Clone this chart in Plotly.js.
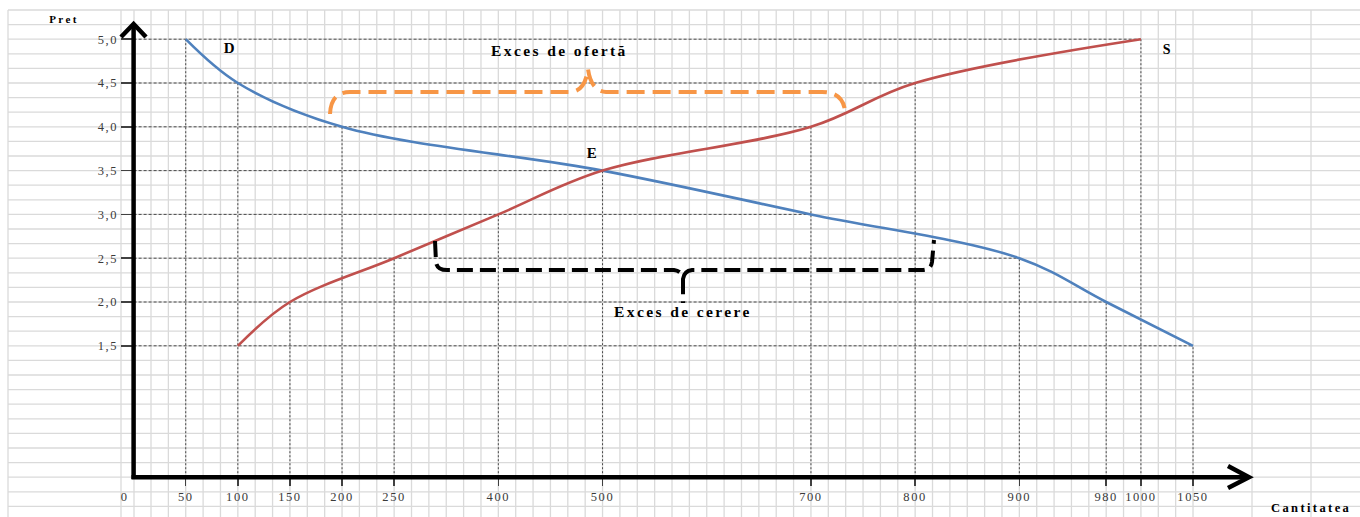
<!DOCTYPE html>
<html><head><meta charset="utf-8">
<script src="https://cdn.plot.ly/plotly-3.0.1.min.js"></script>
<style>
html,body{margin:0;padding:0;background:#fff}
#chart{width:1360px;height:517px}
#chart .xtick text, #chart .ytick text{letter-spacing:1.6px}
#chart .annotation-text{letter-spacing:2.4px}
</style>
</head><body><div id="chart"></div>
<script>
// ---------------- data ----------------
const qtyTicks = [0, 50, 100, 150, 200, 250, 400, 500, 700, 800, 900, 980, 1000, 1050];
const qtyTickLabels = ['0','50','100','150','200','250','400','500','700','800','900','980','1000','1050'];
const prices = [1.5, 2.0, 2.5, 3.0, 3.5, 4.0, 4.5, 5.0];
const priceTickLabels = ['1,5','2,0','2,5','3,0','3,5','4,0','4,5','5,0'];
const qtyDemanded = [1050, 980, 900, 700, 500, 200, 100, 50];   // D
const qtySupplied = [100, 150, 250, 400, 500, 700, 800, 1000];  // S

// ---------------- layout geometry ----------------
// The drawing's quantity axis is hand-made and uneven: each tick sits on a sheet column.
const tickSlots = [-1.5, 2, 5, 8, 11, 14, 20, 26, 38, 44, 50, 55, 57, 60];
function warp(q) {
  for (let i = 0; i < qtyTicks.length - 1; i++) {
    if (q <= qtyTicks[i + 1]) {
      const t = (q - qtyTicks[i]) / (qtyTicks[i + 1] - qtyTicks[i]);
      return tickSlots[i] + t * (tickSlots[i + 1] - tickSlots[i]);
    }
  }
  return tickSlots[tickSlots.length - 1];
}
const W = 1360, H = 517;
const colPx = 17.367, col0Px = 151;     // sheet column width, first column
const unitPx = 87.6, zeroPx = 477.2;    // px per price unit, price-0 baseline
const px2x = px => (px - col0Px) / colPx;
const py2y = py => (zeroPx - py) / unitPx;
const P = (a, b) => px2x(a) + ',' + py2y(b);
const xRange = [px2x(0), px2x(W)];
const yRange = [py2y(H), py2y(0)];

const FONT = 'Liberation Serif, Times New Roman, serif';
const shapes = [];

// spreadsheet cell grid
const gridColor = '#dadada';
const colLines = [px2x(8), px2x(121), px2x(134)];
for (let c = 0; c <= 60; c++) colLines.push(c);
colLines.push(px2x(1252), px2x(1311));
colLines.forEach(x => shapes.push({type:'line', layer:'below', xref:'x', yref:'y',
  x0:x, x1:x, y0:py2y(10), y1:yRange[0], line:{color:gridColor, width:1.3}}));
for (let k = -2; k <= 32; k++) {
  shapes.push({type:'line', layer:'below', xref:'x', yref:'y',
    x0:px2x(8), x1:xRange[1], y0:k/6, y1:k/6, line:{color:gridColor, width:1.3}});
}

// dashed guide lines from the axes to the schedule points
const axisX = px2x(133.6);
const guideColor = '#4a4a4a';
const qAll = Array.from(new Set(qtyDemanded.concat(qtySupplied)));
qAll.forEach(q => {
  let top = 0;
  prices.forEach((p, i) => { if (qtyDemanded[i] === q || qtySupplied[i] === q) top = Math.max(top, p); });
  shapes.push({type:'line', layer:'below', xref:'x', yref:'y', x0:warp(q), x1:warp(q), y0:0, y1:top,
    line:{color:guideColor, width:1, dash:'2px,2px'}});
});
prices.forEach((p, i) => {
  const right = Math.max(qtyDemanded[i], qtySupplied[i]);
  shapes.push({type:'line', layer:'below', xref:'x', yref:'y', x0:axisX, x1:warp(right), y0:p, y1:p,
    line:{color:guideColor, width:1, dash:'3px,2px'}});
});

// thick axes with open arrow heads
shapes.push({type:'line', layer:'above', xref:'x', yref:'y', x0:axisX, x1:axisX, y0:py2y(479), y1:py2y(24),
  line:{color:'#000', width:4.5}});
shapes.push({type:'line', layer:'above', xref:'x', yref:'y', x0:px2x(131.5), x1:px2x(1248), y0:0, y1:0,
  line:{color:'#000', width:4.5}});
shapes.push({type:'path', layer:'above', xref:'x', yref:'y',
  path:'M' + P(121, 37) + ' L' + P(133.6, 24) + ' L' + P(146, 37), line:{color:'#000', width:4.5}});
shapes.push({type:'path', layer:'above', xref:'x', yref:'y',
  path:'M' + P(1228, 466) + ' L' + P(1249, 477.2) + ' L' + P(1228, 488), line:{color:'#000', width:4.5}});

// brace: excess supply (orange)
shapes.push({type:'path', layer:'above', xref:'x', yref:'y',
  path:'M' + P(330, 114) + ' Q' + P(331, 92) + ' ' + P(350, 92) + ' L' + P(571, 92) +
       ' Q' + P(585, 91) + ' ' + P(588, 69) + ' Q' + P(591, 91) + ' ' + P(606, 92) +
       ' L' + P(822, 92) + ' Q' + P(843, 92) + ' ' + P(845, 111),
  line:{color:'#F79646', width:4, dash:'18px,8px'}});
// brace: excess demand (black)
shapes.push({type:'path', layer:'above', xref:'x', yref:'y',
  path:'M' + P(435, 241) + ' L' + P(436, 262) + ' Q' + P(437, 270) + ' ' + P(447, 270) +
       ' L' + P(674, 270) + ' Q' + P(682, 271) + ' ' + P(683, 279) + ' L' + P(683, 303) +
       ' M' + P(683, 279) + ' Q' + P(684, 271) + ' ' + P(692, 270) +
       ' L' + P(922, 270) + ' Q' + P(931, 270) + ' ' + P(932, 262) + ' L' + P(934, 240),
  line:{color:'#000', width:4, dash:'16px,7px'}});

const ann = (px, py, text, size) => ({xref:'x', yref:'y', x:px2x(px), y:py2y(py),
  text:text, showarrow:false, font:{family:FONT, size:size, color:'#000'}});
const annotations = [
  ann(64, 19, '<b>Pret</b>', 11),
  ann(1311, 508, '<b>Cantitatea</b>', 12.5),
  ann(230, 48, '<b>D</b>', 15),
  ann(1168, 49, '<b>S</b>', 14),
  ann(593, 153, '<b>E</b>', 15),
  ann(559, 50, '<b>Exces de ofertă</b>', 15.5),
  ann(683, 311, '<b>Exces de cerere</b>', 15.5),
  {xref:'x', yref:'y', x:warp(qtyTicks[0]), y:py2y(497), text:qtyTickLabels[0], showarrow:false,
   font:{family:FONT, size:12.5, color:'#3a3a3a'}}
];

const traces = [
  {type:'scatter', mode:'lines', name:'D', x:qtyDemanded.map(warp), y:prices,
   line:{color:'#4F81BD', width:2.6, shape:'spline', smoothing:1}, hoverinfo:'skip'},
  {type:'scatter', mode:'lines', name:'S', x:qtySupplied.map(warp), y:prices,
   line:{color:'#C0504D', width:2.6, shape:'spline', smoothing:1}, hoverinfo:'skip'}
];

const layout = {
  width:W, height:H, margin:{l:0, r:0, t:0, b:0, pad:0},
  paper_bgcolor:'#fff', plot_bgcolor:'#fff', showlegend:false,
  xaxis:{range:xRange, showgrid:false, zeroline:false, showline:false, anchor:'free',
    position:(H - zeroPx) / H, tickmode:'array',
    tickvals:qtyTicks.slice(1).map(warp), ticktext:qtyTickLabels.slice(1),
    ticks:'outside', ticklen:8, tickwidth:1.5, tickcolor:'#404040',
    tickfont:{family:FONT, size:12.5, color:'#3a3a3a'}, fixedrange:true},
  yaxis:{range:yRange, showgrid:false, zeroline:false, showline:false, anchor:'free',
    position:133.6 / W, tickmode:'array', tickvals:prices, ticktext:priceTickLabels,
    ticks:'outside', ticklen:13, tickwidth:1.5, tickcolor:'#404040',
    tickfont:{family:FONT, size:12.5, color:'#3a3a3a'}, fixedrange:true},
  shapes:shapes, annotations:annotations
};
Plotly.newPlot('chart', traces, layout, {staticPlot:true, displayModeBar:false});
</script>
</body></html>
